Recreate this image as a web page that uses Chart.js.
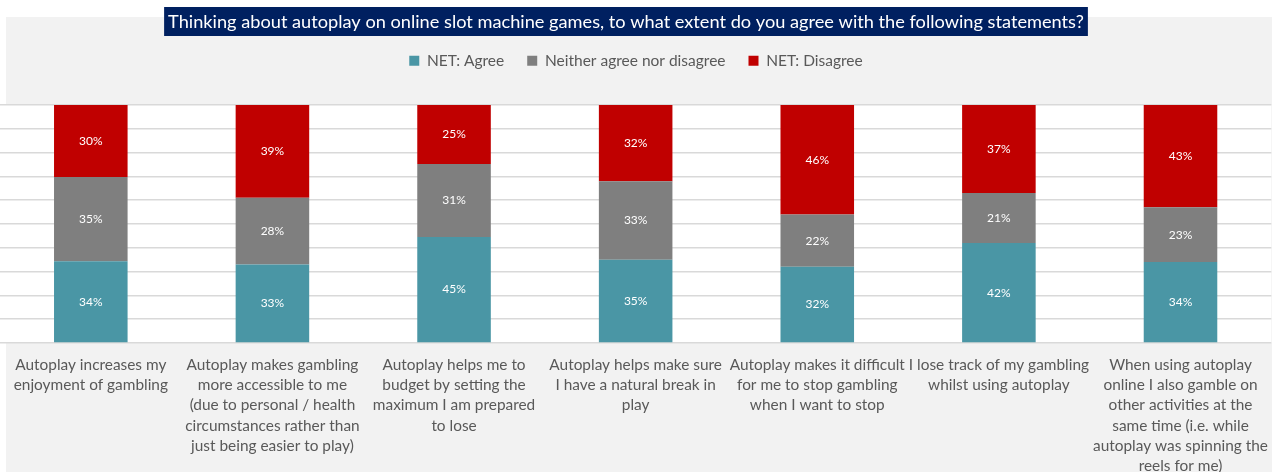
<!DOCTYPE html>
<html>
<head>
<meta charset="utf-8">
<script src="https://cdn.jsdelivr.net/npm/chart.js@4"></script>
<style>
  html, body { margin: 0; padding: 0; background: #ffffff; }
  #wrap { width: 1272px; height: 472px; }
</style>
</head>
<body>
<div id="wrap"><canvas id="chart" width="1272" height="472"></canvas></div>
<script>
const titleText = "Thinking about autoplay on online slot machine games, to what extent do you agree with the following statements?";

const categories = [
  ["Autoplay increases my", "enjoyment of gambling"],
  ["Autoplay makes gambling", "more accessible to me", "(due to personal / health", "circumstances rather than", "just being easier to play)"],
  ["Autoplay helps me to", "budget by setting the", "maximum I am prepared", "to lose"],
  ["Autoplay helps make sure", "I have a natural break in", "play"],
  ["Autoplay makes it difficult", "for me to stop gambling", "when I want to stop"],
  ["I lose track of my gambling", "whilst using autoplay"],
  ["When using autoplay", "online I also gamble on", "other activities at the", "same time (i.e. while", "autoplay was spinning the", "reels for me)"]
];

const seriesNames = ["NET: Agree", "Neither agree nor disagree", "NET: Disagree"];
const agree = [34, 33, 45, 35, 32, 42, 34];
const neither = [35, 28, 31, 33, 22, 21, 23];
const disagree = [30, 39, 25, 32, 46, 37, 43];
const colors = ["#4A96A5", "#7F7F7F", "#C00000"];

const FONT = "Lato, 'Open Sans', sans-serif";
const series = [agree, neither, disagree];

// 100% stacked: each column is scaled to its own total, labels keep raw values
const totals = categories.map((c, i) => agree[i] + neither[i] + disagree[i]);
const share = (arr) => arr.map((v, i) => (v / totals[i]) * 100);

// backgrounds + navy title box with the title text
const backdrop = {
  id: "backdrop",
  beforeDraw(chart) {
    const { ctx, chartArea } = chart;
    ctx.save();
    ctx.fillStyle = "#f2f2f2";
    ctx.fillRect(6, 17, chart.width - 6, chart.height - 17);
    ctx.fillStyle = "#ffffff";
    ctx.fillRect(chartArea.left, chartArea.top, chartArea.right - chartArea.left, chartArea.bottom - chartArea.top);
    ctx.restore();
  },
  afterDraw(chart) {
    const { ctx } = chart;
    ctx.save();
    ctx.font = "18.2px " + FONT;
    const w = ctx.measureText(titleText).width;
    const cx = 626;
    ctx.fillStyle = "#002060";
    ctx.fillRect(cx - w / 2 - 4, 7, w + 8, 29);
    ctx.fillStyle = "#ffffff";
    ctx.textAlign = "center";
    ctx.textBaseline = "middle";
    ctx.fillText(titleText, cx, 22);
    ctx.restore();
  }
};

// value labels in the middle of every segment
const valueLabels = {
  id: "valueLabels",
  afterDatasetsDraw(chart) {
    const { ctx } = chart;
    ctx.save();
    ctx.font = "12px " + FONT;
    ctx.fillStyle = "#ffffff";
    ctx.textAlign = "center";
    ctx.textBaseline = "middle";
    chart.data.datasets.forEach((ds, di) => {
      const meta = chart.getDatasetMeta(di);
      meta.data.forEach((bar, i) => {
        ctx.fillText(series[di][i] + "%", bar.x, (bar.y + bar.base) / 2);
      });
    });
    ctx.restore();
  }
};

new Chart(document.getElementById("chart"), {
  type: "bar",
  data: {
    labels: categories,
    datasets: series.map((s, i) => ({
      label: seriesNames[i],
      data: share(s),
      backgroundColor: colors[i],
      borderWidth: 0,
      categoryPercentage: 1,
      barPercentage: 0.405
    }))
  },
  options: {
    responsive: false,
    animation: false,
    layout: { padding: { top: 30, left: 0, right: 0, bottom: 0 } },
    plugins: {
      tooltip: { enabled: false },
      title: { display: false },
      legend: {
        position: "top",
        labels: {
          color: "#595959",
          font: { family: FONT, size: 15.5 },
          boxWidth: 10,
          boxHeight: 10,
          padding: 23
        }
      }
    },
    scales: {
      x: {
        stacked: true,
        grid: { display: false },
        border: { display: false },
        ticks: {
          color: "#595959",
          font: { family: FONT, size: 15.4, lineHeight: 1.31 },
          autoSkip: false,
          maxRotation: 0,
          minRotation: 0,
          padding: 4
        },
        afterFit(scale) { scale.height = 129; }
      },
      xTop: {
        position: "top",
        display: true,
        grid: { display: false },
        border: { display: false },
        ticks: { display: false },
        afterFit(scale) { scale.height = 26.5; }
      },
      y: {
        stacked: true,
        min: 0,
        max: 100,
        ticks: { display: false, stepSize: 10 },
        border: { display: false },
        grid: { color: "#d9d9d9", lineWidth: 1.5, drawTicks: false },
        afterFit(scale) { scale.width = 0; }
      }
    }
  },
  plugins: [backdrop, valueLabels]
});
</script>
</body>
</html>
